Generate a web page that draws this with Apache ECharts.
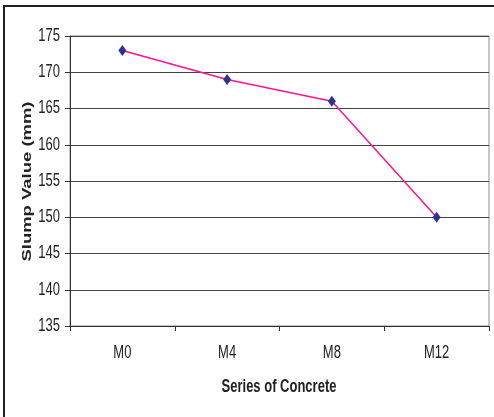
<!DOCTYPE html>
<html>
<head>
<meta charset="utf-8">
<script src="https://cdn.jsdelivr.net/npm/echarts@6/dist/echarts.min.js"></script>
<style>html,body{margin:0;padding:0;background:#fff;}#c{width:494px;height:417px;}</style>
</head>
<body>
<div id="c"></div>
<script>
var categories = ['M0', 'M4', 'M8', 'M12'];
var slumpValues = [173, 169, 166, 150];
var yTickLabels = [135, 140, 145, 150, 155, 160, 165, 170, 175];
var yMin = 135, yMax = 175, yStep = 5;
var xTitle = 'Series of Concrete';
var yTitle = 'Slump Value (mm)';

var fontFam = '"Liberation Sans", Arial, sans-serif';
var stretch = 1.36;

var chart = echarts.init(document.getElementById('c'), null, {renderer: 'canvas'});
chart.setOption({
  animation: false,
  backgroundColor: '#ffffff',
  grid: {left: 70, right: 5, top: 36, bottom: 91, show: true, borderColor: '#8c8c8c', borderWidth: 1},
  xAxis: {
    type: 'category',
    data: categories,
    boundaryGap: true,
    axisLine: {show: true, lineStyle: {color: '#333', width: 1}},
    axisTick: {show: true, length: 5, alignWithLabel: false, lineStyle: {color: '#333'}},
    axisLabel: {show: false},
    splitLine: {show: false}
  },
  yAxis: {
    type: 'value',
    min: yMin, max: yMax, interval: yStep,
    axisLine: {show: true, lineStyle: {color: '#333', width: 1}},
    axisTick: {show: true, length: 5, inside: false, lineStyle: {color: '#333'}},
    axisLabel: {show: false},
    splitLine: {show: true, lineStyle: {color: '#444', width: 1}}
  },
  series: [{
    type: 'line',
    data: slumpValues,
    symbol: 'diamond',
    symbolSize: [8, 11],
    itemStyle: {color: '#2e3192'},
    lineStyle: {color: '#ff1493', width: 1.5},
    z: 5
  }]
});

// Text drawn with the (vertically stretched) look of the reference, positioned via the chart's own scales
var g = [{
  type: 'rect',
  shape: {x: 4, y: 6, width: 600, height: 600},
  style: {fill: 'none', stroke: '#231f20', lineWidth: 2},
  z: 0
}, {
  type: 'text',
  x: 27.5, y: 181.5,
  rotation: Math.PI / 2,
  scaleX: 1.42,
  style: {text: yTitle, font: 'bold 13px ' + fontFam, fill: '#222', textAlign: 'center', textVerticalAlign: 'middle'},
  z: 10
}, {
  type: 'text',
  x: 279, y: 387,
  scaleY: stretch,
  style: {text: xTitle, font: 'bold 13px ' + fontFam, fill: '#222', textAlign: 'center', textVerticalAlign: 'middle'},
  z: 10
}];
categories.forEach(function (c) {
  var px = chart.convertToPixel({xAxisIndex: 0}, c);
  g.push({
    type: 'text', x: px, y: 353.5, scaleY: stretch,
    style: {text: c, font: '13px ' + fontFam, fill: '#222', textAlign: 'center', textVerticalAlign: 'middle'},
    z: 10
  });
});
yTickLabels.forEach(function (v) {
  var py = chart.convertToPixel({yAxisIndex: 0}, v);
  g.push({
    type: 'text', x: 60, y: py, scaleY: stretch,
    style: {text: String(v), font: '13px ' + fontFam, fill: '#222', textAlign: 'right', textVerticalAlign: 'middle'},
    z: 10
  });
});
chart.setOption({graphic: g});
</script>
</body>
</html>
